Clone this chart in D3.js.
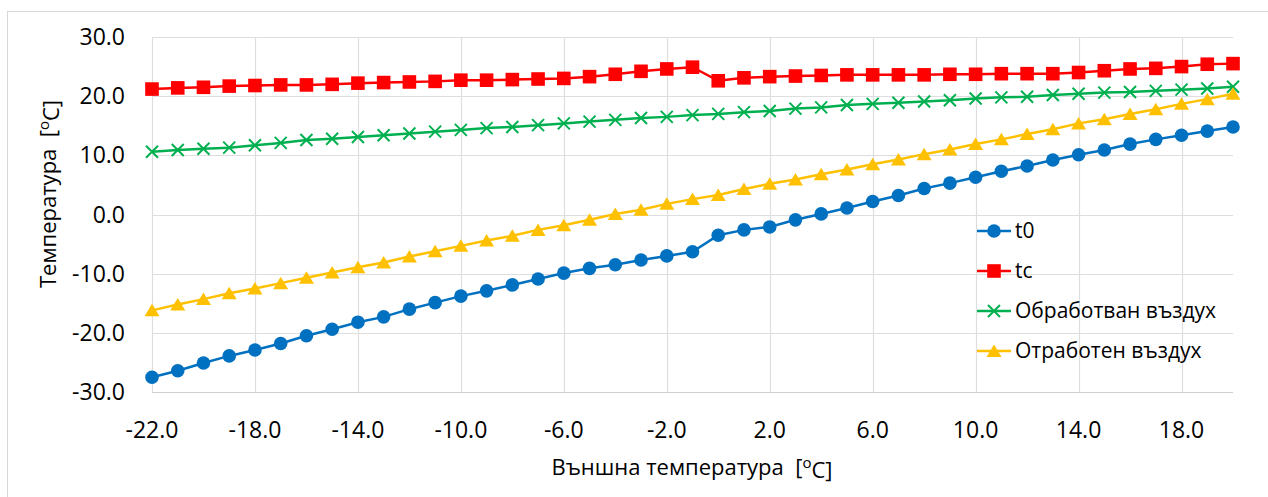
<!DOCTYPE html>
<html>
<head>
<meta charset="utf-8">
<script src="https://cdn.jsdelivr.net/npm/d3@7"></script>
<style>
  body { margin: 0; background: #fff; }
  text { font-family: "Open Sans", sans-serif; fill: #000; }
</style>
</head>
<body>
<div id="chart"></div>
<script>
// outside temperature, -22 .. 20
const outside = d3.range(-22, 21);
const t0 = [-27.5, -26.4, -25.1, -23.9, -22.9, -21.8, -20.5, -19.4, -18.2, -17.3, -16.0,
  -14.9, -13.8, -12.9, -11.9, -10.9, -9.9, -9.1, -8.5, -7.7, -7.0, -6.3,
  -3.5, -2.6, -2.1, -0.9, 0.1, 1.1, 2.2, 3.2, 4.4, 5.3, 6.3, 7.3, 8.2, 9.2, 10.1,
  10.9, 11.9, 12.7, 13.4, 14.1, 14.8];
const tc = [21.2, 21.4, 21.5, 21.7, 21.8, 21.9, 21.9, 22.0, 22.2, 22.3, 22.4,
  22.5, 22.7, 22.7, 22.8, 22.9, 23.0, 23.3, 23.7, 24.2, 24.6, 24.9,
  22.6, 23.1, 23.3, 23.4, 23.5, 23.6, 23.6, 23.6, 23.6, 23.7, 23.7, 23.8, 23.8, 23.8, 24.0,
  24.3, 24.6, 24.7, 25.0, 25.4, 25.5];
const treated = [10.6, 10.9, 11.1, 11.3, 11.7, 12.1, 12.6, 12.8, 13.1, 13.4, 13.7,
  14.0, 14.3, 14.6, 14.8, 15.1, 15.4, 15.7, 16.0, 16.3, 16.5, 16.8,
  17.0, 17.3, 17.5, 17.9, 18.1, 18.5, 18.7, 18.9, 19.1, 19.3, 19.6, 19.8, 19.9, 20.2, 20.4,
  20.6, 20.7, 20.9, 21.1, 21.3, 21.6];
const exhaust = [-16.2, -15.2, -14.3, -13.3, -12.5, -11.6, -10.7, -9.8, -8.9, -8.1, -7.1,
  -6.2, -5.3, -4.4, -3.6, -2.6, -1.8, -0.9, 0.1, 0.8, 1.8, 2.6,
  3.3, 4.3, 5.2, 5.9, 6.8, 7.6, 8.5, 9.3, 10.2, 11.0, 11.9, 12.7, 13.6, 14.4, 15.4,
  16.1, 17.0, 17.8, 18.7, 19.5, 20.4];
const xTicks = [-22, -18, -14, -10, -6, -2, 2, 6, 10, 14, 18];
const yTicks = [-30, -20, -10, 0, 10, 20, 30];

const series = [
  { name: "t0", values: t0, color: "#0070C0", marker: "circle" },
  { name: "tc", values: tc, color: "#FF0000", marker: "square" },
  { name: "Обработван въздух", values: treated, color: "#00B050", marker: "cross" },
  { name: "Отработен въздух", values: exhaust, color: "#FFC000", marker: "triangle" }
];

const W = 1268, H = 497;
const margin = { left: 152, right: 35, top: 37, bottom: 105 };
const fmt = d => d.toFixed(1);

const svg = d3.select("#chart").append("svg")
  .attr("width", W).attr("height", H);

// chart frame
svg.append("rect")
  .attr("x", 7.5).attr("y", 11.5)
  .attr("width", W).attr("height", H)
  .attr("fill", "none").attr("stroke", "#d9d9d9");

const x = d3.scaleLinear().domain([-22, 20]).range([margin.left, W - margin.right]);
const y = d3.scaleLinear().domain([-30, 30]).range([H - margin.bottom, margin.top]);

// grid
svg.append("g").selectAll("line").data(yTicks).join("line")
  .attr("x1", x(-22)).attr("x2", x(20))
  .attr("y1", d => Math.round(y(d)) + 0.5).attr("y2", d => Math.round(y(d)) + 0.5)
  .attr("stroke", d => d === -30 ? "#d0d0d0" : "#dedede").attr("stroke-width", 1.2);
svg.append("g").selectAll("line").data(xTicks).join("line")
  .attr("x1", d => Math.round(x(d)) + 0.5).attr("x2", d => Math.round(x(d)) + 0.5)
  .attr("y1", y(30)).attr("y2", y(-30))
  .attr("stroke", "#dedede").attr("stroke-width", 1.2);

// tick labels
svg.append("g").selectAll("text").data(yTicks).join("text")
  .attr("x", 125).attr("y", d => y(d))
  .attr("dy", "0.35em").attr("text-anchor", "end")
  .style("font-size", "23px")
  .text(fmt);
svg.append("g").selectAll("text").data(xTicks).join("text")
  .attr("x", d => x(d)).attr("y", 430)
  .attr("dy", "0.35em").attr("text-anchor", "middle")
  .style("font-size", "23px")
  .text(fmt);

// axis titles
const xt = svg.append("text")
  .attr("x", 692).attr("y", 467).attr("dy", "0.35em")
  .attr("text-anchor", "middle").style("font-size", "22px");
xt.append("tspan").text("Външна температура\u00a0\u00a0[");
xt.append("tspan").attr("dy", "-0.45em").style("font-size", "15px").text("o");
xt.append("tspan").attr("dy", "0.45em").text("C]");

const yt = svg.append("text")
  .attr("transform", "translate(48,194) rotate(-90)")
  .attr("dy", "0.35em")
  .attr("text-anchor", "middle").style("font-size", "22px");
yt.append("tspan").text("Температура\u00a0\u00a0[");
yt.append("tspan").attr("dy", "-0.45em").style("font-size", "15px").text("o");
yt.append("tspan").attr("dy", "0.45em").text("C]");

function drawMarker(g, type, color) {
  if (type === "circle") {
    g.append("circle").attr("r", 6.8).attr("fill", color);
  } else if (type === "square") {
    g.append("rect").attr("x", -6.8).attr("y", -6.8).attr("width", 13.6).attr("height", 13.6).attr("fill", color);
  } else if (type === "triangle") {
    g.append("path").attr("d", "M0,-6.5L7.5,6L-7.5,6Z").attr("fill", color);
  } else if (type === "cross") {
    g.append("path").attr("d", "M-6,-6L6,6M-6,6L6,-6")
      .attr("stroke", color).attr("stroke-width", 2).attr("fill", "none");
  }
}

const line = d3.line().x((d, i) => x(outside[i])).y(d => y(d));

series.forEach(s => {
  const g = svg.append("g");
  g.append("path").datum(s.values)
    .attr("d", line).attr("fill", "none")
    .attr("stroke", s.color).attr("stroke-width", 2.5);
  g.selectAll("g").data(s.values).join("g")
    .attr("transform", (d, i) => `translate(${x(outside[i])},${y(d)})`)
    .each(function() { drawMarker(d3.select(this), s.marker, s.color); });
});

// legend
const legend = svg.append("g");
series.forEach((s, i) => {
  const ly = 231 + i * 40;
  const g = legend.append("g");
  g.append("line").attr("x1", 977).attr("x2", 1011).attr("y1", ly).attr("y2", ly)
    .attr("stroke", s.color).attr("stroke-width", 2.5);
  drawMarker(g.append("g").attr("transform", `translate(994,${ly})`), s.marker, s.color);
  g.append("text").attr("x", 1015).attr("y", ly).attr("dy", "0.35em")
    .style("font-size", "21px").text(s.name);
});
</script>
</body>
</html>
